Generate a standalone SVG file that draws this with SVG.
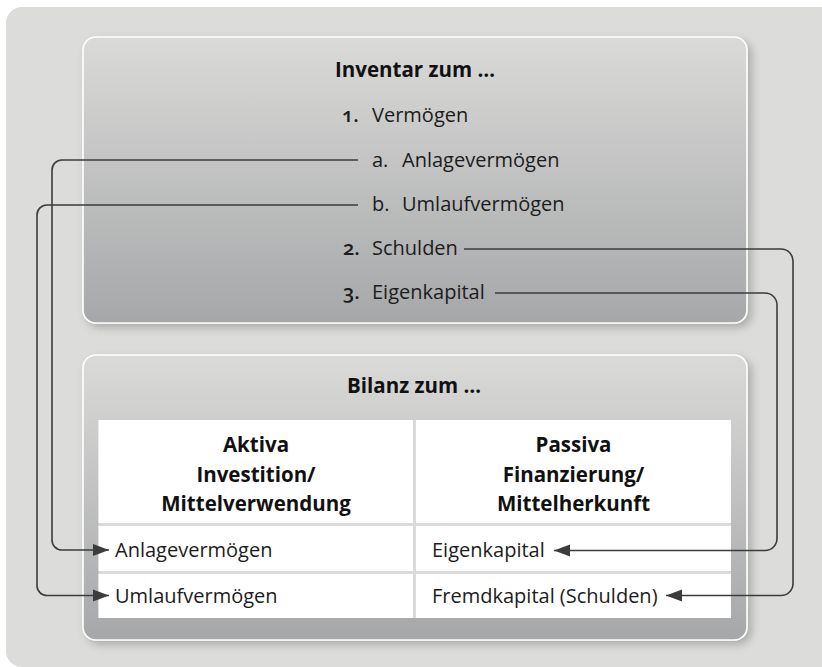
<svg xmlns="http://www.w3.org/2000/svg" width="822" height="667" viewBox="0 0 822 667">
  <defs>
    <linearGradient id="boxGrad" x1="0" y1="0" x2="0" y2="1">
      <stop offset="0" stop-color="#dadad8"/>
      <stop offset="1" stop-color="#a6a7a9"/>
    </linearGradient>
    <filter id="shadow" x="-10%" y="-10%" width="125%" height="125%">
      <feDropShadow dx="4" dy="4" stdDeviation="4" flood-color="#000" flood-opacity="0.22"/>
    </filter>
    <marker id="arrow" markerUnits="userSpaceOnUse" markerWidth="18" markerHeight="14" refX="16" refY="7" orient="auto">
      <path d="M0,1 L16,7 L0,13 Z" fill="#3a3c3e"/>
    </marker>
    <style>
      .box { fill: url(#boxGrad); stroke: #ffffff; stroke-width: 1.6; filter: url(#shadow); }
      .title { font-family: "Open Sans", "Noto Sans", sans-serif; font-weight: 700; font-size: 20.5px; fill: #111111; text-anchor: middle; }
      .item { font-family: "Open Sans", "Noto Sans", sans-serif; font-size: 20px; fill: #1c1c1c; }
      .num { font-family: "Open Sans", "Noto Sans", sans-serif; font-size: 20px; font-weight: 600; fill: #1c1c1c; font-variant-numeric: oldstyle-nums; }
      .cell { fill: #ffffff; }
      .head { font-family: "Open Sans", "Noto Sans", sans-serif; font-weight: 700; font-size: 20.5px; fill: #111111; text-anchor: middle; }
      .conn { fill: none; stroke: #3a3c3e; stroke-width: 1.6; }
    </style>
  </defs>

  <rect width="822" height="667" fill="#ffffff"/>
  <rect id="background" x="6" y="7" width="840" height="660" rx="16" ry="16" fill="#dcdcda"/>

  <g id="inventar">
    <rect class="box" x="83" y="37" width="664" height="286" rx="13" ry="13"/>
    <text class="title" x="415" y="77">Inventar zum …</text>
    <text class="num" x="342" y="122">1.</text>
    <text class="item" x="372" y="122">Vermögen</text>
    <text class="item" x="372" y="166.5">a.</text>
    <text class="item" x="402" y="166.5">Anlagevermögen</text>
    <text class="item" x="372" y="211">b.</text>
    <text class="item" x="402" y="211">Umlaufvermögen</text>
    <text class="num" x="343" y="255">2.</text>
    <text class="item" x="372" y="255">Schulden</text>
    <text class="num" x="343" y="299">3.</text>
    <text class="item" x="372" y="299">Eigenkapital</text>
  </g>

  <g id="bilanz">
    <rect class="box" x="83" y="355" width="664" height="285" rx="13" ry="13"/>
    <text class="title" x="414" y="393">Bilanz zum …</text>
    <rect x="98.5" y="420" width="632.5" height="198" fill="#dadada"/>
    <g id="aktiva-head">
      <rect class="cell" x="98.5" y="420" width="314.5" height="103"/>
      <text class="head" x="256" y="452">Aktiva</text>
      <text class="head" x="256" y="482">Investition/</text>
      <text class="head" x="256" y="510.5">Mittelverwendung</text>
    </g>
    <g id="passiva-head">
      <rect class="cell" x="416" y="420" width="315" height="103"/>
      <text class="head" x="573.5" y="452">Passiva</text>
      <text class="head" x="573.5" y="482">Finanzierung/</text>
      <text class="head" x="573.5" y="510.5">Mittelherkunft</text>
    </g>
    <g id="anlagevermoegen">
      <rect class="cell" x="98.5" y="526" width="314.5" height="45"/>
      <text class="item" x="115" y="557">Anlagevermögen</text>
    </g>
    <g id="eigenkapital">
      <rect class="cell" x="416" y="526" width="315" height="45"/>
      <text class="item" x="432" y="557">Eigenkapital</text>
    </g>
    <g id="umlaufvermoegen">
      <rect class="cell" x="98.5" y="574" width="314.5" height="44"/>
      <text class="item" x="115" y="603">Umlaufvermögen</text>
    </g>
    <g id="fremdkapital">
      <rect class="cell" x="416" y="574" width="315" height="44"/>
      <text class="item" x="432" y="603">Fremdkapital (Schulden)</text>
    </g>
  </g>

  <g id="connectors">
    <path class="conn" marker-end="url(#arrow)" d="M358,160 H62 A10,10 0 0 0 52,170 V540 A10,10 0 0 0 62,550 H109"/>
    <path class="conn" marker-end="url(#arrow)" d="M358,205 H47 A10,10 0 0 0 37,215 V585.5 A10,10 0 0 0 47,595.5 H109"/>
    <path class="conn" marker-end="url(#arrow)" d="M464,249 H781 A12,12 0 0 1 793,261 V583.5 A12,12 0 0 1 781,595.5 H666"/>
    <path class="conn" marker-end="url(#arrow)" d="M495,293 H765 A12,12 0 0 1 777,305 V538.5 A12,12 0 0 1 765,550.5 H554"/>
  </g>
</svg>
